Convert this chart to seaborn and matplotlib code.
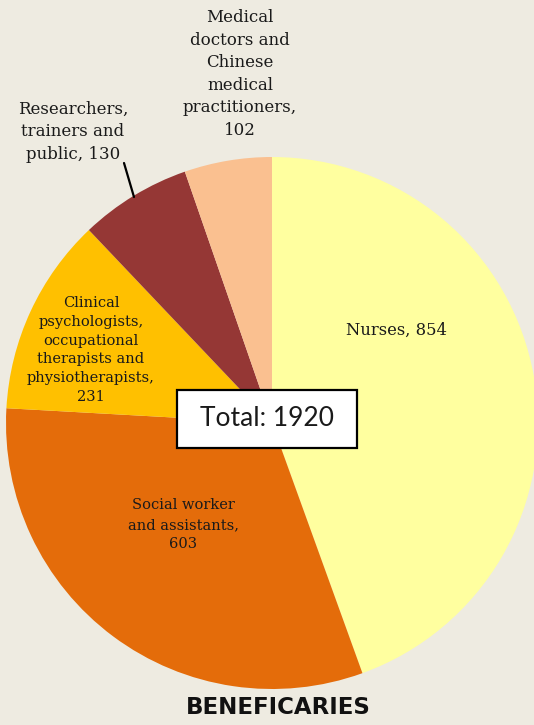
import matplotlib
matplotlib.use("Agg")
import matplotlib.pyplot as plt
from matplotlib.patches import Rectangle
import seaborn as sns

categories = ["Nurses", "Social worker\nand assistants",
              "Clinical\npsychologists,\noccupational\ntherapists and\nphysiotherapists",
              "Researchers,\ntrainers and\npublic",
              "Medical\ndoctors and\nChinese\nmedical\npractitioners"]
values = [854, 603, 231, 130, 102]
colors = ["#FFFF9F", "#E46C0A", "#FFC000", "#953735", "#FAC090"]
total_label = "Total: 1920"
title = "BENEFICARIES"

bg = "#EEEBE1"
sns.set_theme(style="white")
plt.rcParams['font.family'] = ['DejaVu Serif']

fig = plt.figure(figsize=(5.34, 7.25), dpi=100, facecolor=bg)
ax = fig.add_axes([6 / 534, 36 / 725, 532 / 534, 532 / 725])
ax.set_facecolor(bg)
ax.pie(values, colors=colors, startangle=90, counterclock=False, radius=1,
       wedgeprops=dict(linewidth=0))
ax.set_xlim(-1, 1)
ax.set_ylim(-1, 1)
ax.set_aspect("equal")
ax.axis("off")

def P(px, py):
    return ((px - 272) / 266, (423 - py) / 266)

lab_pos = [P(396, 330), P(183, 525), P(91, 350), P(73, 132), P(240, 74)]
lab_size = [11.8, 10.5, 10.5, 12, 12]
lab_ls = [1.3, 1.5, 1.42, 1.42, 1.43]
for cat, v, pos, fs, ls in zip(categories, values, lab_pos, lab_size, lab_ls):
    sep = ", " if cat == "Nurses" else ",\n"
    if cat.startswith("Researchers"):
        sep = ", "
    ax.text(pos[0], pos[1], f"{cat}{sep}{v}", ha="center", va="center",
            fontsize=fs, color="#1a1a1a", linespacing=ls, clip_on=False)

x0, y0 = P(124, 163)
x1, y1 = P(134, 197)
ax.plot([x0, x1], [y0, y1], color="black", lw=1.6, clip_on=False)

bx0, by0 = P(177, 448)
bx1, by1 = P(357, 390)
ax.add_patch(Rectangle((bx0, by0), bx1 - bx0, by1 - by0, facecolor="white",
                       edgecolor="black", linewidth=1.6, zorder=5, clip_on=False))
tx, ty = P(267, 419)
ax.text(tx, ty, total_label, ha="center", va="center", fontsize=19,
        family=["Lato", "DejaVu Sans"], color="#1a1a1a", zorder=6)

fig.text(278 / 534, 1 - 708 / 725, title, ha="center", va="center",
         fontsize=16.5, fontweight="bold", family=["DejaVu Sans"], color="#111111")

fig.savefig("out.png", dpi=100, facecolor=bg)
